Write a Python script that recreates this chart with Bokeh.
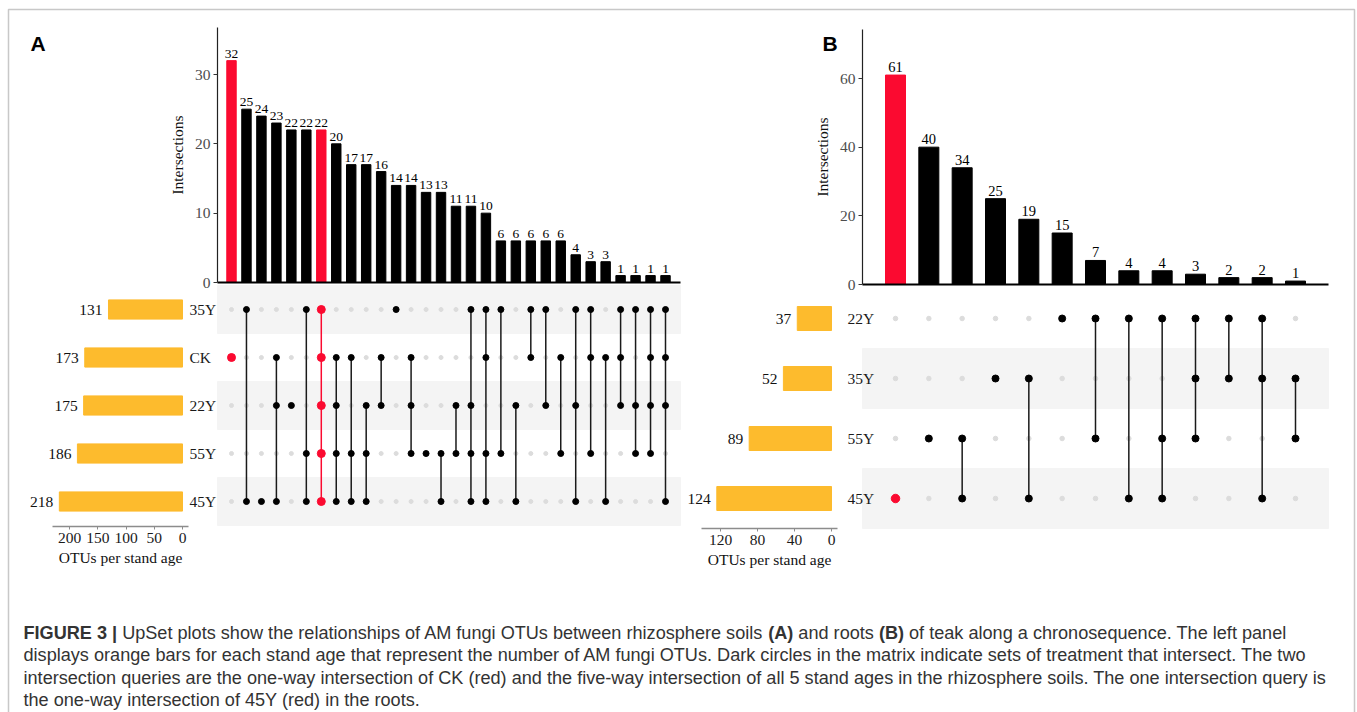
from bokeh.plotting import figure
from bokeh.models import Range1d, LinearAxis, FixedTicker, BoxAnnotation
from bokeh.core.properties import value
from bokeh.embed import file_html
from bokeh.resources import INLINE

# ---------------- data ----------------
A_sets = ["35Y", "CK", "22Y", "55Y", "45Y"]          # matrix rows, top to bottom
A_set_sizes = [131, 173, 175, 186, 218]
A_counts = [32, 25, 24, 23, 22, 22, 22, 20, 17, 17, 16, 14, 14, 13, 13,
            11, 11, 10, 6, 6, 6, 6, 6, 4, 3, 3, 1, 1, 1, 1]
A_members = [
    ["CK"], ["35Y", "45Y"], ["45Y"], ["CK", "22Y", "45Y"], ["22Y"],
    ["35Y", "55Y", "45Y"], ["35Y", "CK", "22Y", "55Y", "45Y"],
    ["CK", "22Y", "55Y", "45Y"], ["CK", "55Y", "45Y"], ["22Y", "55Y", "45Y"],
    ["CK", "22Y"], ["35Y"], ["CK", "22Y", "55Y"], ["55Y"], ["55Y", "45Y"],
    ["22Y", "55Y"], ["35Y", "22Y", "55Y", "45Y"], ["35Y", "CK", "55Y", "45Y"],
    ["35Y", "55Y"], ["22Y", "45Y"], ["35Y", "CK"], ["35Y", "22Y"], ["CK", "55Y"],
    ["35Y", "22Y", "45Y"], ["35Y", "CK", "55Y"], ["CK", "45Y"], ["35Y", "CK", "22Y"],
    ["35Y", "22Y", "55Y"], ["35Y", "CK", "22Y", "55Y"], ["35Y", "CK", "22Y", "45Y"],
]
A_queries = [["CK"], ["35Y", "CK", "22Y", "55Y", "45Y"]]
A_count_ticks = [0, 10, 20, 30]
A_size_ticks = [0, 50, 100, 150, 200]

B_sets = ["22Y", "35Y", "55Y", "45Y"]
B_set_sizes = [37, 52, 89, 124]
B_counts = [61, 40, 34, 25, 19, 15, 7, 4, 4, 3, 2, 2, 1]
B_members = [
    ["45Y"], ["55Y"], ["55Y", "45Y"], ["35Y"], ["35Y", "45Y"], ["22Y"],
    ["22Y", "55Y"], ["22Y", "45Y"], ["22Y", "55Y", "45Y"], ["22Y", "35Y", "55Y"],
    ["22Y", "35Y"], ["22Y", "35Y", "45Y"], ["35Y", "55Y"],
]
B_queries = [["45Y"]]
B_count_ticks = [0, 20, 40, 60]
B_size_ticks = [0, 40, 80, 120]

panel_labels = ["A", "B"]
count_title = "Intersections"
size_title = "OTUs per stand age"

caption_line1 = [
    ("FIGURE 3 |", True),
    (" UpSet plots show the relationships of AM fungi OTUs between rhizosphere soils ", False),
    ("(A)", True),
    (" and roots ", False),
    ("(B)", True),
    (" of teak along a chronosequence. The left panel", False),
]
caption_rest = [
    "displays orange bars for each stand age that represent the number of AM fungi OTUs. Dark circles in the matrix indicate sets of treatment that intersect. The two",
    "intersection queries are the one-way intersection of CK (red) and the five-way intersection of all 5 stand ages in the rhizosphere soils. The one intersection query is",
    "the one-way intersection of 45Y (red) in the roots.",
]

# ---------------- style ----------------
W, H = 1357, 712
RED = "#fb0a30"
ORANGE = "#fdbb2d"
BAND = "#f4f4f4"
LIGHT_DOT = "#dcdcdc"
SERIF = "Liberation Serif"
SANS = "Liberation Sans"

p = figure(width=W, height=H, x_range=Range1d(0, W), y_range=Range1d(H, 0),
           x_axis_location=None, y_axis_location=None, toolbar_location=None,
           output_backend="svg", min_border=0, outline_line_color=None,
           background_fill_color="white", border_fill_color="white")
for g in p.grid:
    g.visible = False

xranges, yranges = {}, {}


def map_x(v0, p0, v1, p1):
    s = (p1 - p0) / (v1 - v0)
    start = v0 - p0 / s
    return Range1d(start=start, end=start + W / s)


def map_y(v0, p0, v1, p1):
    t0, t1 = H - p0, H - p1
    s = (t1 - t0) / (v1 - v0)
    start = v0 - t0 / s
    return Range1d(start=start, end=start + H / s)


def inv_x(r, px):
    return r.start + px / W * (r.end - r.start)


def inv_y(r, py):
    return r.start + (H - py) / H * (r.end - r.start)


def style_axis(ax, fs="15.5px", color="#4d4d4d"):
    ax.major_label_text_font = SERIF
    ax.major_label_text_font_size = fs
    ax.major_label_text_color = color
    ax.axis_label_text_font = SERIF
    ax.axis_label_text_font_size = fs
    ax.axis_label_text_font_style = "normal"
    ax.axis_label_text_color = "#111111"
    ax.minor_tick_line_color = None


def draw_panel(tag, sets, sizes, counts, members, queries, count_ticks, size_ticks, L):
    n_sets, n_cols = len(sets), len(counts)
    cols = list(range(n_cols))
    row_of = {s: n_sets - 1 - i for i, s in enumerate(sets)}
    rows = [row_of[s] for s in sets]
    xr = map_x(0, L["col0"], n_cols - 1, L["colN"])
    yr = map_y(0, L["base"], count_ticks[-1], L["tick_top"])
    rr = map_y(0, L["row0"], n_sets - 1, L["row_top"])
    sr = map_x(0, L["size0"], size_ticks[-1], L["size_tick_px"])
    xn, yn, rn, sn = tag + "x", tag + "y", tag + "r", tag + "s"
    xranges[xn], xranges[sn] = xr, sr
    yranges[yn], yranges[rn] = yr, rr

    qsets = [set(q) for q in queries]
    is_q = [set(m) in qsets for m in members]

    # intersection bars
    colors = [RED if q else "black" for q in is_q]
    p.vbar(x=cols, top=counts, bottom=0, width=L["bar_w"], color=colors,
           x_range_name=xn, y_range_name=yn)
    p.text(x=cols, y=counts, text=[str(c) for c in counts], x_range_name=xn, y_range_name=yn,
           text_align="center", text_baseline="bottom", y_offset=-3,
           text_font=value(SERIF), text_font_size=value(L["lab_fs"]), text_color="black")

    left_edge = inv_x(xr, L["ax_left"])
    right_edge = inv_x(xr, L["ax_right"])

    # matrix bands
    band_rows = [r for r in range(n_sets) if r % 2 == 0]
    p.quad(left=left_edge, right=right_edge, bottom=[r - 0.5 for r in band_rows],
           top=[r + 0.5 for r in band_rows], color=BAND, x_range_name=xn, y_range_name=rn)

    # matrix dots and connectors
    ix, iy, ax_, ay_, axc = [], [], [], [], []
    sx0, sy0, sy1, sc = [], [], [], []
    for c, m in enumerate(members):
        rs = [row_of[s] for s in m]
        for r in range(n_sets):
            if r in rs:
                ax_.append(c); ay_.append(r); axc.append(RED if is_q[c] else "black")
            else:
                ix.append(c); iy.append(r)
        if len(rs) > 1:
            sx0.append(c); sy0.append(min(rs)); sy1.append(max(rs))
            sc.append(RED if is_q[c] else "#1a1a1a")
    p.scatter(x=ix, y=iy, size=L["dot_off"], color=LIGHT_DOT, x_range_name=xn, y_range_name=rn)
    p.segment(x0=sx0, y0=sy0, x1=sx0, y1=sy1, line_color=sc, line_width=1.5,
              x_range_name=xn, y_range_name=rn)
    sizes_dot = [L["dot_q"] if c == RED else L["dot_on"] for c in axc]
    p.scatter(x=ax_, y=ay_, size=sizes_dot, color=axc, x_range_name=xn, y_range_name=rn)

    # set-size bars
    p.hbar(y=rows, left=0, right=sizes, height=0.4, color=ORANGE, x_range_name=sn, y_range_name=rn)
    p.text(x=sizes, y=rows, text=[str(s) for s in sizes], x_range_name=sn, y_range_name=rn,
           text_align="right", text_baseline="middle", x_offset=-6,
           text_font=value(SERIF), text_font_size=value("15.5px"), text_color="#111111")

    # count axis
    cy = LinearAxis(x_range_name=xn, y_range_name=yn, fixed_location=left_edge,
                    bounds=(0, inv_y(yr, L["ax_top"])), ticker=FixedTicker(ticks=count_ticks),
                    axis_label=count_title)
    style_axis(cy)
    cy.axis_line_color = "#222222"
    cy.axis_line_width = 1.2
    cy.major_tick_line_color = "#333333"
    cy.major_tick_out = 4
    cy.major_tick_in = 0
    cy.major_label_standoff = 3
    cy.axis_label_standoff = 6
    p.add_layout(cy, "left")

    # zero line
    zx = LinearAxis(x_range_name=xn, y_range_name=yn, fixed_location=0,
                    bounds=(left_edge, right_edge), ticker=FixedTicker(ticks=[]))
    zx.axis_line_color = "black"
    zx.axis_line_width = 2
    zx.major_tick_line_color = None
    zx.minor_tick_line_color = None
    zx.major_label_text_font_size = "0px"
    p.add_layout(zx, "below")

    # set-size axis
    sa = LinearAxis(x_range_name=sn, y_range_name=rn, fixed_location=inv_y(rr, L["size_axis_y"]),
                    bounds=(inv_x(sr, L["size_ax_l"]), inv_x(sr, L["size_ax_r"])),
                    ticker=FixedTicker(ticks=size_ticks), axis_label=size_title)
    style_axis(sa, color="#1a1a1a")
    sa.axis_line_color = "#8c8c8c"
    sa.axis_line_width = 1.5
    sa.major_tick_line_color = "#8c8c8c"
    sa.major_tick_out = 3
    sa.major_tick_in = 0
    sa.major_label_standoff = 3
    sa.axis_label_standoff = 3
    p.add_layout(sa, "below")

    # row labels
    ra = LinearAxis(x_range_name=sn, y_range_name=rn, fixed_location=inv_x(sr, L["rowlab_px"]),
                    ticker=FixedTicker(ticks=rows),
                    major_label_overrides={row_of[s]: s for s in sets})
    style_axis(ra, color="#1a1a1a")
    ra.axis_line_color = None
    ra.major_tick_line_color = None
    ra.major_tick_out = 0
    ra.major_tick_in = 0
    ra.major_label_standoff = 3
    p.add_layout(ra, "right")


LA = dict(col0=231, colN=665, base=282, tick_top=74, ax_top=27, ax_left=217, ax_right=680,
          row0=501, row_top=309, size0=182, size_tick_px=69, size_axis_y=526,
          size_ax_l=52, size_ax_r=188, rowlab_px=186, bar_w=0.63, lab_fs="13.5px",
          dot_off=4, dot_on=6, dot_q=8)
LB = dict(col0=895, colN=1295, base=284, tick_top=78, ax_top=29, ax_left=862, ax_right=1328,
          row0=498, row_top=318, size0=831, size_tick_px=720, size_axis_y=528,
          size_ax_l=701, size_ax_r=837, rowlab_px=844, bar_w=0.6, lab_fs="14.5px",
          dot_off=4.5, dot_on=7, dot_q=8.5)

draw_panel("a", A_sets, A_set_sizes, A_counts, A_members, A_queries, A_count_ticks, A_size_ticks, LA)
draw_panel("b", B_sets, B_set_sizes, B_counts, B_members, B_queries, B_count_ticks, B_size_ticks, LB)

p.extra_x_ranges = xranges
p.extra_y_ranges = yranges

# frame border
p.add_layout(BoxAnnotation(left=8, right=1354, top=9, bottom=760, fill_color=None,
                           line_color="#4a4a4a", line_width=1.5))

# panel letters
p.text(x=[30, 822], y=[43, 43], text=panel_labels, text_font=value(SANS),
       text_font_style="bold", text_font_size=value("21px"), text_color="black",
       text_baseline="alphabetic")

# caption
ARIAL = {' ': 278, 'a': 556, 'b': 556, 'c': 500, 'd': 556, 'e': 556, 'f': 278, 'g': 556,
         'h': 556, 'i': 222, 'j': 222, 'k': 500, 'l': 222, 'm': 833, 'n': 556, 'o': 556,
         'p': 556, 'q': 556, 'r': 333, 's': 500, 't': 278, 'u': 556, 'v': 500, 'w': 722,
         'x': 500, 'y': 500, 'z': 500, 'A': 667, 'B': 667, 'C': 722, 'D': 722, 'E': 667,
         'F': 611, 'G': 778, 'H': 722, 'I': 278, 'K': 667, 'L': 556, 'M': 833, 'N': 722,
         'O': 778, 'P': 667, 'R': 722, 'S': 667, 'T': 611, 'U': 722, 'V': 667, 'W': 944,
         'Y': 667, '.': 278, ',': 278, '(': 333, ')': 333, '|': 260, '-': 333}
ARIAL_BOLD = {' ': 278, 'F': 611, 'I': 278, 'G': 778, 'U': 722, 'R': 722, 'E': 667,
              'A': 722, 'B': 722, '(': 333, ')': 333, '|': 280}


def em(s, bold):
    t = ARIAL_BOLD if bold else ARIAL
    return sum(t.get(ch, 556) for ch in s) / 1000.0


cap_x0, cap_x1 = 23, 1286
total_em = sum(em(s, b) for s, b in caption_line1)
cfs = (cap_x1 - cap_x0) / total_em
bx, by_, bt, nx, ny, nt = [], [], [], [], [], []
cur = cap_x0
for s, b in caption_line1:
    lead = len(s) - len(s.lstrip(" "))
    start = cur + em(" " * lead, b) * cfs
    if b:
        bx.append(start); by_.append(632); bt.append(s.strip())
    else:
        nx.append(start); ny.append(632); nt.append(s.strip())
    cur += em(s, b) * cfs
for i, line in enumerate(caption_rest):
    nx.append(cap_x0); ny.append(654.5 + i * 22.5); nt.append(line)
CAP_COL = "#333333"
p.text(x=bx, y=by_, text=bt, text_font=value(SANS), text_font_style="bold",
       text_font_size=value(f"{cfs:.2f}px"), text_color=CAP_COL, text_baseline="alphabetic")
p.text(x=nx, y=ny, text=nt, text_font=value(SANS),
       text_font_size=value(f"{cfs:.2f}px"), text_color=CAP_COL, text_baseline="alphabetic")

open("out.html", "w").write(file_html(p, INLINE))
